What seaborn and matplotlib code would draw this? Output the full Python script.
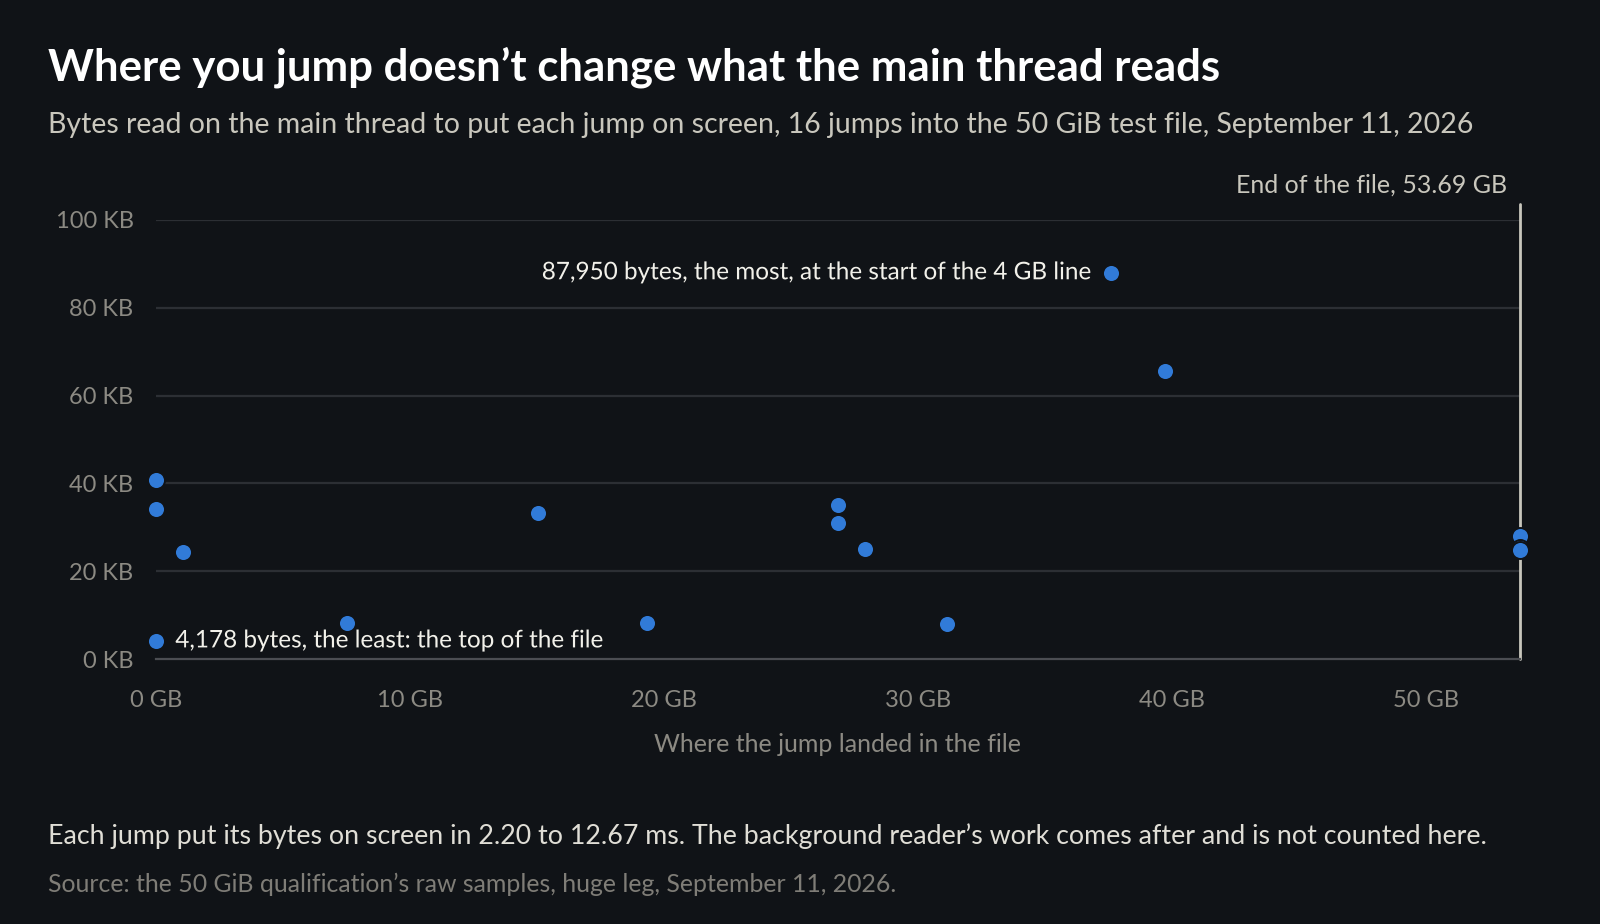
"""Main-thread bytes per jump, scatter over file offset."""
import pandas as pd
import seaborn as sns
import matplotlib.pyplot as plt
import matplotlib.patheffects as pe

# jump landing offset in the file (GB) and bytes read on the main thread (KB)
offset_gb = [0.0, 0.0, 0.0, 1.07, 7.52, 15.04, 19.33, 26.85, 26.85, 27.9,
             31.14, 37.6, 39.74, 53.69, 53.69, 53.69]
read_kb = [4.178, 34.2, 40.7, 24.5, 8.3, 33.2, 8.2, 35.1, 30.9, 25.2,
           8.1, 87.95, 65.5, 28.0, 25.4, 24.9]
file_end_gb = 53.69
x_ticks = [0, 10, 20, 30, 40, 50]
y_ticks = [0, 20, 40, 60, 80, 100]

BG = "#101317"
DOT = "#317bd8"
GRID = "#2c2f34"
MUTED = "#8c8a83"

sns.set_theme(style="dark", rc={
    "figure.facecolor": BG,
    "axes.facecolor": BG,
    "savefig.facecolor": BG,
})
plt.rcParams["font.family"] = ["Lato", "DejaVu Sans"]

df = pd.DataFrame({"offset": offset_gb, "kb": read_kb})

fig = plt.figure(figsize=(16, 9.24), dpi=100)
ax = fig.add_axes([0.0974, 0.2865, 0.8524, 0.4756])

# grid lines stop at the end-of-file line
for y in y_ticks[1:]:
    ax.plot([0, file_end_gb], [y, y], color=GRID, lw=1.6, zorder=0)

# end of file marker
ax.plot([file_end_gb, file_end_gb], [0, 103.6], color="#c9c7bd", lw=2,
        clip_on=False, zorder=1)
ax.annotate("End of the file, 53.69 GB", xy=(file_end_gb, 103.6),
            xytext=(-9, 8), textcoords="offset points", ha="right",
            va="baseline", color="#c9c7bd", fontsize=18,
            annotation_clip=False)

sns.scatterplot(data=df, x="offset", y="kb", ax=ax, color=DOT, s=150,
                edgecolor=BG, linewidth=1.4, clip_on=False, zorder=3,
                legend=False)

halo = [pe.withStroke(linewidth=4, foreground=BG)]
ax.annotate("87,950 bytes, the most, at the start of the 4 GB line",
            xy=(37.6, 87.95), xytext=(-15, 0), textcoords="offset points",
            ha="right", va="center", color="#f2f1ea", fontsize=17.5,
            path_effects=halo)
ax.annotate("4,178 bytes, the least: the top of the file",
            xy=(0.0, 4.178), xytext=(14, 0), textcoords="offset points",
            ha="left", va="center", color="#f2f1ea", fontsize=17.5,
            path_effects=halo, zorder=4)

ax.set_xlim(0, file_end_gb)
ax.set_ylim(0, 100)
ax.set_xticks(x_ticks)
ax.set_xticklabels([f"{t} GB" for t in x_ticks])
ax.set_yticks(y_ticks)
ax.set_yticklabels([f"{t} KB" for t in y_ticks])
ax.tick_params(axis="x", colors="#4b4d52", length=9, width=1.4, pad=13,
               labelcolor=MUTED, labelsize=17)
ax.tick_params(axis="y", length=0, pad=16, labelcolor=MUTED, labelsize=17)
ax.grid(False)
for side in ["top", "right", "left"]:
    ax.spines[side].set_visible(False)
ax.spines["bottom"].set_color("#4b4d52")
ax.spines["bottom"].set_linewidth(1.6)
ax.spines["bottom"].set_zorder(2)

ax.set_xlabel("Where the jump landed in the file", color=MUTED, fontsize=18,
              labelpad=16)
ax.set_ylabel("")

fig.text(0.030, 0.913, "Where you jump doesn\u2019t change what the main thread reads",
         color="white", fontsize=31.5, fontweight="bold", va="baseline")
fig.text(0.030, 0.856, "Bytes read on the main thread to put each jump on screen, "
         "16 jumps into the 50 GiB test file, September 11, 2026",
         color="#c9c7bd", fontsize=20.5, va="baseline")
fig.text(0.030, 0.0866, "Each jump put its bytes on screen in 2.20 to 12.67 ms. "
         "The background reader\u2019s work comes after and is not counted here.",
         color="#e0ded6", fontsize=19.3, va="baseline")
fig.text(0.030, 0.0349, "Source: the 50 GiB qualification\u2019s raw samples, "
         "huge leg, September 11, 2026.",
         color="#7f7d77", fontsize=17.9, va="baseline")

fig.savefig("out.png", dpi=100, facecolor=BG)
